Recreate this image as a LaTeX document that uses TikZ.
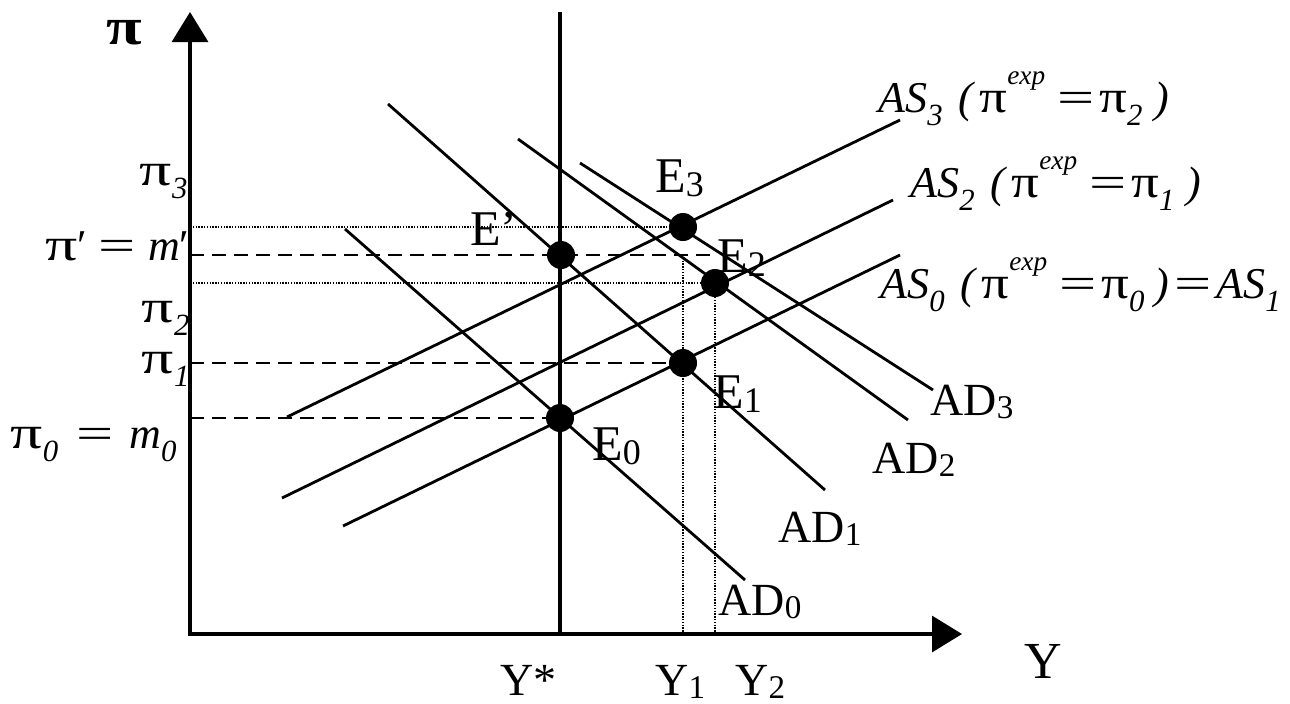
\documentclass[tikz,border=0pt]{standalone}
\usepackage{fontspec}
\setmainfont{Liberation Serif}
\usepackage{graphicx}
\usetikzlibrary{arrows.meta}
\newcommand\dsub[1]{\raisebox{-0.08em}{\scalebox{0.72}{#1}}}
\newcommand\psub[1]{\raisebox{-0.3em}{\scalebox{0.7}{\itshape #1}}}
\newcommand\usup[1]{\raisebox{0.62em}{\scalebox{0.62}{\itshape #1}}}
\newcommand\piwide{\scalebox{1.45}[1.05]{π}}
\newcommand\pias{\scalebox{1.25}[1.05]{π}}
\newcommand\eqw{\scalebox{1.5}[1]{=}}
\begin{document}
\begin{tikzpicture}[x=0.5pt,y=-0.5pt,
  curve/.style={line width=1.4pt},
  axisline/.style={line width=1.6pt},
  dashline/.style={line width=1.3pt,dash pattern=on 7pt off 4pt},
  dotline/.style={line width=1.4pt,dash pattern=on 0.7pt off 0.7pt},
  eqpt/.style={circle,fill=black,inner sep=0pt,minimum size=14pt},
  lab/.style={inner sep=0pt,font=\fontsize{23}{23}\selectfont},
  elab/.style={inner sep=0pt,anchor=base west,font=\fontsize{25}{25}\selectfont},
  ylab/.style={inner sep=0pt,anchor=base west,font=\fontsize{23}{23}\selectfont},
  pilab/.style={inner sep=0pt,anchor=base east,font=\fontsize{22}{22}\selectfont},
  aslab/.style={inner sep=0pt,anchor=base west,font=\fontsize{22}{22}\selectfont}]
\useasboundingbox (0,0) rectangle (1290,703);
% axes
\coordinate (O) at (190,634);
\coordinate (ytip) at (190,12);
\coordinate (xtip) at (962,634);
\coordinate (ystarTop) at (560,12);
\coordinate (ystarBot) at (560,634);
% equilibrium points
\node[eqpt] (Ep) at (561,255) {};
\node[eqpt] (E3) at (683,227) {};
\node[eqpt] (E2) at (715,283) {};
\node[eqpt] (E1) at (683,363) {};
\node[eqpt] (E0) at (560,418) {};
% axis-side coordinates
\coordinate (y3) at (190,227);
\coordinate (yp) at (190,255);
\coordinate (y2) at (190,283);
\coordinate (y1) at (190,363);
\coordinate (y0) at (190,418);
\coordinate (ypEnd) at (716,255);
\coordinate (x1top) at (683,255);
\coordinate (x1) at (683,634);
\coordinate (x2) at (715,634);
% guide lines
\draw[dotline] (y3) -- (E3.center);
\draw[dashline] (yp) -- (ypEnd);
\draw[dotline] (y2) -- (E2.center);
\draw[dashline] (y1) -- (E1.center);
\draw[dashline] (y0) -- (E0.center);
\draw[dotline] (x1top) -- (x1);
\draw[dotline] (E2.center) -- (x2);
% AD curves
\coordinate (ad0a) at (345,229); \coordinate (ad0b) at (745,580);
\coordinate (ad1a) at (388,104); \coordinate (ad1b) at (825,490);
\coordinate (ad2a) at (518,139); \coordinate (ad2b) at (908,420);
\coordinate (ad3a) at (580,163); \coordinate (ad3b) at (933,390);
\draw[curve] (ad0a) -- (ad0b);
\draw[curve] (ad1a) -- (ad1b);
\draw[curve] (ad2a) -- (ad2b);
\draw[curve] (ad3a) -- (ad3b);
% AS curves
\coordinate (as0a) at (343,526); \coordinate (as0b) at (900,255);
\coordinate (as2a) at (282,498); \coordinate (as2b) at (893,200);
\coordinate (as3a) at (287,417); \coordinate (as3b) at (900,120);
\draw[curve] (as0a) -- (as0b);
\draw[curve] (as2a) -- (as2b);
\draw[curve] (as3a) -- (as3b);
% Y* line and axes
\draw[axisline] (ystarTop) -- (ystarBot);
\draw[axisline,{Triangle[width=18pt,length=15pt]}-{Triangle[width=18pt,length=15pt]}] (ytip) -- (O) -- (xtip);
% labels
\node[inner sep=0pt,font=\fontsize{25}{25}\selectfont\bfseries] (pi) at (124,33) {\scalebox{1.3}[1.05]{π}};
\node[pilab] (lpi3) at (188,185) {\piwide\psub{3}};
\node[pilab] (lpip) at (190,260) {\piwide′\hspace{6pt}\eqw\hspace{6pt}\textit{m}′};
\node[pilab] (lpi2) at (190,322) {\piwide\psub{2}};
\node[pilab] (lpi1) at (190,373) {\piwide\psub{1}};
\node[pilab] (lpi0) at (177,448) {\piwide\psub{0}\hspace{9pt}\eqw\hspace{8pt}\textit{m}\psub{0}};
\node[aslab] (las3) at (878,112) {\textit{AS}\psub{3}\hspace{8pt}\textit{(}\hspace{2pt}\pias\usup{exp}\hspace{6pt}\eqw\hspace{2.5pt}\pias\psub{2}\hspace{6pt}\textit{)}};
\node[aslab] (las2) at (910,197) {\textit{AS}\psub{2}\hspace{8pt}\textit{(}\hspace{2pt}\pias\usup{exp}\hspace{6pt}\eqw\hspace{2.5pt}\pias\psub{1}\hspace{6pt}\textit{)}};
\node[aslab] (las0) at (880,298) {\textit{AS}\psub{0}\hspace{8pt}\textit{(}\hspace{2pt}\pias\usup{exp}\hspace{6pt}\eqw\hspace{2.5pt}\pias\psub{0}\hspace{5pt}\textit{)}\hspace{2.5pt}\eqw\hspace{2.5pt}\textit{AS}\psub{1}};
\node[elab] (lE3) at (655,192) {E\dsub{3}};
\node[elab] (lEp) at (470,245) {E’};
\node[elab] (lE2) at (717,272) {E\dsub{2}};
\node[elab] (lE1) at (713,408) {E\dsub{1}};
\node[elab] (lE0) at (592,460) {E\dsub{0}};
\node[lab,anchor=base west] (lAD0) at (718,615) {AD\dsub{0}};
\node[lab,anchor=base west] (lAD1) at (778,542) {AD\dsub{1}};
\node[lab,anchor=base west] (lAD2) at (872,473) {AD\dsub{2}};
\node[lab,anchor=base west] (lAD3) at (930,415) {AD\dsub{3}};
\node[inner sep=0pt,anchor=base,font=\fontsize{26}{26}\selectfont] (lY) at (1043,678) {Y};
\node[ylab] (lYs) at (500,695) {Y*};
\node[ylab] (lY1) at (655,695) {Y\dsub{1}};
\node[ylab] (lY2) at (735,695) {Y\dsub{2}};
\end{tikzpicture}
\end{document}
